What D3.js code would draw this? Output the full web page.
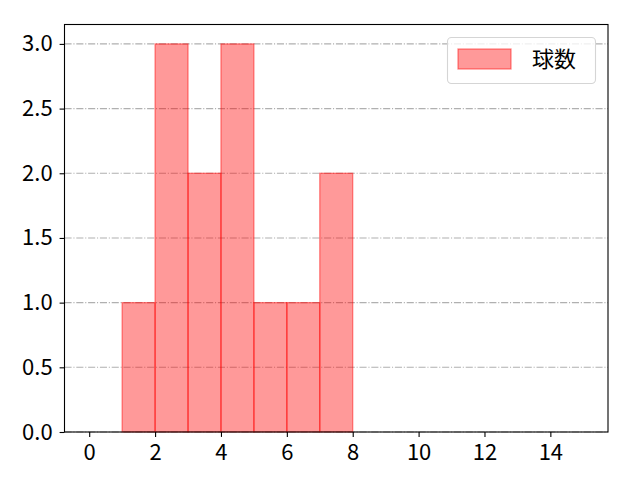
<!DOCTYPE html>
<html>
<head>
<meta charset="utf-8">
<script src="https://cdn.jsdelivr.net/npm/d3@7"></script>
<style>
  body { margin: 0; background: #fff; }
  svg text { font-family: "Noto Sans CJK JP", "Noto Sans", sans-serif; }
</style>
</head>
<body>
<svg id="chart" width="640" height="480"></svg>
<script>
// histogram bins (left edges) and counts
var binStarts = [1, 2, 3, 4, 5, 6, 7];
var binWidth = 1;
var counts = [1, 3, 2, 3, 1, 1, 2];
var xTicks = [0, 2, 4, 6, 8, 10, 12, 14];
var yTicks = [0, 0.5, 1.0, 1.5, 2.0, 2.5, 3.0];
var seriesName = '球数';

var margin = { left: 64.5, top: 24.5, right: 32, bottom: 48 };
var width = 640 - margin.left - margin.right,
  height = 480 - margin.top - margin.bottom;

var svg = d3.select('#chart');
var g = svg.append('g').attr('transform', 'translate(' + margin.left + ',' + margin.top + ')');

var x = d3.scaleLinear().domain([-0.75, 15.75]).range([0, width]);
var y = d3.scaleLinear().domain([0, 3.15]).range([height, 0]);

// grid, behind bars
g.append('g').selectAll('line')
  .data(yTicks).enter()
  .append('line')
  .attr('x1', 0).attr('x2', width)
  .attr('y1', function(d) { return y(d); })
  .attr('y2', function(d) { return y(d); })
  .attr('stroke', '#b0b0b0')
  .attr('stroke-width', 1.1)
  .attr('stroke-dasharray', '7.1,1.8,1.1,1.8');

// bars
g.append('g').selectAll('rect')
  .data(counts).enter()
  .append('rect')
  .attr('x', function(d, i) { return x(binStarts[i]); })
  .attr('width', function(d, i) { return x(binStarts[i] + binWidth) - x(binStarts[i]); })
  .attr('y', function(d) { return y(d); })
  .attr('height', function(d) { return y(0) - y(d); })
  .attr('fill', '#ff0000')
  .attr('fill-opacity', 0.4)
  .attr('stroke', '#ff0000')
  .attr('stroke-opacity', 0.45)
  .attr('stroke-width', 1.3);

// axes
var xAxis = g.append('g')
  .attr('transform', 'translate(0,' + height + ')')
  .call(d3.axisBottom(x).tickValues(xTicks).tickFormat(d3.format('d')).tickSize(4.9).tickPadding(7.5));
var yAxis = g.append('g')
  .call(d3.axisLeft(y).tickValues(yTicks).tickFormat(d3.format('.1f')).tickSize(4.9).tickPadding(7));

[xAxis, yAxis].forEach(function(a) {
  a.select('.domain').remove();
  a.selectAll('.tick line').attr('stroke', '#000').attr('stroke-width', 1.1);
  a.selectAll('.tick text').attr('fill', '#000').style('font-size', '22px');
});

// frame
g.append('rect')
  .attr('width', width).attr('height', height)
  .attr('fill', 'none').attr('stroke', '#000').attr('stroke-width', 1.1);

// legend
var lg = svg.append('g');
lg.append('rect')
  .attr('x', 447.5).attr('y', 37.5).attr('width', 148).attr('height', 46)
  .attr('rx', 4).attr('fill', '#fff').attr('fill-opacity', 0.8)
  .attr('stroke', '#d5d5d5').attr('stroke-width', 1.1);
lg.append('rect')
  .attr('x', 458).attr('y', 49).attr('width', 53).attr('height', 20)
  .attr('fill', '#ff0000').attr('fill-opacity', 0.4)
  .attr('stroke', '#ff0000').attr('stroke-opacity', 0.45).attr('stroke-width', 1.3);
lg.append('text')
  .attr('x', 532).attr('y', 59).attr('dy', '0.36em')
  .style('font-size', '22px').attr('fill', '#000')
  .text(seriesName);
</script>
</body>
</html>
